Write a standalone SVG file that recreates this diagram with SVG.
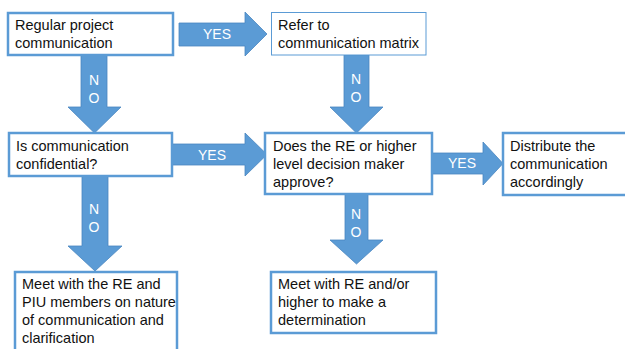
<svg xmlns="http://www.w3.org/2000/svg" width="625" height="349" viewBox="0 0 625 349">
<style>
.box{fill:#fff;stroke:#5B9BD5;stroke-width:2.5}
.thin{stroke-width:1}
.t{font-family:"Liberation Sans",Arial,sans-serif;font-size:14.5px;fill:#111}
.arr{fill:#5B9BD5;stroke:#4A86C0;stroke-width:0.8}
.lbl{font-family:"Liberation Sans",Arial,sans-serif;font-size:14px;fill:#fff;text-anchor:middle}
</style>
<rect width="625" height="349" fill="#fff"/>
<g id="connectors">
<polygon class="arr" points="179,23 245,23 245,12 267,34 245,56 245,46 179,46"/>
<text class="lbl" x="217" y="39">YES</text>
<polygon class="arr" points="172,144 245,144 245,133 267,154.5 245,176 245,165 172,165"/>
<text class="lbl" x="212" y="160">YES</text>
<polygon class="arr" points="432,153 483,153 483,142 503,163.5 483,185 483,174 432,174"/>
<text class="lbl" x="462" y="168">YES</text>
<polygon class="arr" points="81,55 107,55 107,107 121,107 94.5,133 68,107 81,107"/>
<text class="lbl" x="94" y="85">N</text><text class="lbl" x="94" y="103">O</text>
<polygon class="arr" points="82,176 108,176 108,246 122,246 95,271 68,246 82,246"/>
<text class="lbl" x="94" y="214">N</text><text class="lbl" x="94" y="232">O</text>
<polygon class="arr" points="344,55 369,55 369,107 383,107 356.5,133 330,107 344,107"/>
<text class="lbl" x="356" y="84">N</text><text class="lbl" x="356" y="102">O</text>
<polygon class="arr" points="345,194 368,194 368,240 383,240 356.5,264 330,240 345,240"/>
<text class="lbl" x="356" y="219">N</text><text class="lbl" x="356" y="237">O</text>
</g>
<g id="n1">
<rect class="box" x="8" y="13" width="165" height="42"/>
<text class="t" x="15" y="30">Regular project</text>
<text class="t" x="15" y="48">communication</text>
</g>
<g id="n2">
<rect class="box thin" x="271.5" y="12.5" width="154.5" height="42.5"/>
<text class="t" x="278" y="30">Refer to</text>
<text class="t" x="278" y="48">communication matrix</text>
</g>
<g id="n3">
<rect class="box" x="9" y="133" width="163" height="43"/>
<text class="t" x="16" y="151">Is communication</text>
<text class="t" x="16" y="169">confidential?</text>
</g>
<g id="n4">
<rect class="box" x="265" y="133" width="167" height="61"/>
<text class="t" x="273" y="151">Does the RE or higher</text>
<text class="t" x="273" y="169">level decision maker</text>
<text class="t" x="273" y="187">approve?</text>
</g>
<g id="n5">
<rect class="box" x="503" y="133" width="125" height="62"/>
<text class="t" x="510" y="151">Distribute the</text>
<text class="t" x="510" y="169">communication</text>
<text class="t" x="510" y="187">accordingly</text>
</g>
<g id="n6">
<rect class="box" x="15" y="272" width="162" height="82"/>
<text class="t" x="22" y="289">Meet with the RE and</text>
<text class="t" x="22" y="307">PIU members on nature</text>
<text class="t" x="22" y="325">of communication and</text>
<text class="t" x="22" y="343">clarification</text>
</g>
<g id="n7">
<rect class="box" x="271" y="272" width="165" height="61"/>
<text class="t" x="278" y="289">Meet with RE and/or</text>
<text class="t" x="278" y="307">higher to make a</text>
<text class="t" x="278" y="325">determination</text>
</g>
</svg>
